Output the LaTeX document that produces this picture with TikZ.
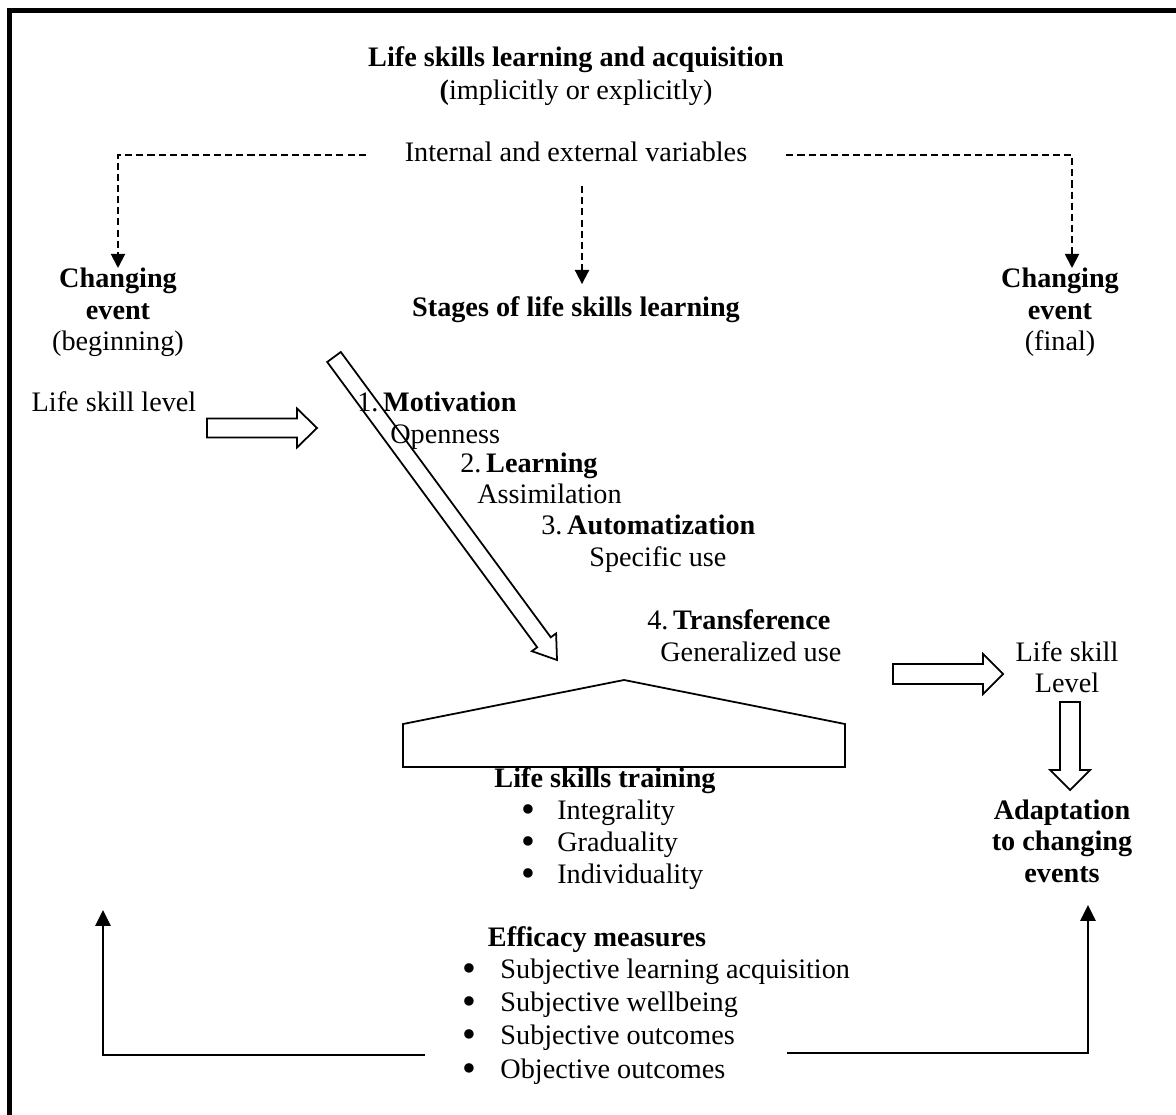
\documentclass[tikz,border=0pt]{standalone}
\usepackage{fontspec}
\setmainfont{Liberation Serif}
\usetikzlibrary{arrows.meta}

\newcommand{\itembullet}[1]{\makebox[#1][l]{\raisebox{-1.9pt}{\scalebox{1.4}{\textbullet}}}}

\tikzset{
    txt/.style={font=\fontsize{16}{18}\selectfont, inner sep=0pt,
        text height=11pt, text depth=4pt},
    btxt/.style={txt, font=\fontsize{16}{18}\selectfont\bfseries},
    mline/.style={font=\fontsize{16}{17.8}\selectfont, inner sep=0pt,
        align=center, anchor=north},
    dasharrow/.style={line width=1.1pt, dash pattern=on 4pt off 2.3pt,
        -{Triangle[length=8pt, width=8pt]}},
    hollow/.style={draw, line width=1pt, line join=miter},
    fbarrow/.style={line width=1.4pt, -{Triangle[length=9pt, width=8.5pt]}}
}

\begin{document}
\begin{tikzpicture}[x=0.567pt, y=-0.567pt]
    \useasboundingbox (0,0) rectangle (1176,1115);
    \draw[line width=2.8pt] (9.5,10.5) rectangle (1200,1140);

    % heading
    \node[btxt] (title) at (576,60) {Life skills learning and acquisition};
    \node[txt] (mode) at (576,93) {\textbf{(}implicitly or explicitly)};
    \node[txt, inner xsep=22pt] (vars) at (576,155)
        {Internal and external variables};

    \node[mline] (chgL) at (118,268)
        {\textbf{Changing}\\\textbf{event}\\(beginning)};
    \node[btxt] (stages) at (576,310) {Stages of life skills learning};
    \node[mline] (chgR) at (1060,268)
        {\textbf{Changing}\\\textbf{event}\\(final)};

    \draw[dasharrow] (vars.west) -| (chgL.north);
    \draw[dasharrow] (vars.east) -| ([xshift=6.8pt]chgR.north);
    \draw[dasharrow, shorten <=10pt, shorten >=7pt]
        ([xshift=3.4pt]vars.south) -- ([xshift=3.4pt]stages.north);

    % stages
    \node[txt] (lvlL) at (114,405) {Life skill level};
    \node[txt, anchor=west] (st1) at (357,405) {1.\,\textbf{Motivation}};
    \node[txt, anchor=west] (st1b) at (390,437) {Openness};
    \node[txt, anchor=west] (st2) at (460,466) {2.\,\textbf{Learning}};
    \node[txt, anchor=west] (st2b) at (477,497) {Assimilation};
    \node[txt, anchor=west] (st3) at (541,528) {3.\,\textbf{Automatization}};
    \node[txt, anchor=west] (st3b) at (589,560) {Specific use};
    \node[txt, anchor=west] (st4) at (647,623) {4.\,\textbf{Transference}};
    \node[txt, anchor=west] (st4b) at (660,655) {Generalized use};

    \draw[hollow] (207,418.5) -- (297,418.5) -- (297,408.5) -- (317,428)
        -- (297,447.5) -- (297,437.5) -- (207,437.5) -- cycle;
    \draw[hollow] (327.2,362.0) -- (537.2,647.3) -- (531.9,651.2)
        -- (557,660) -- (556.1,633.4) -- (550.8,637.3) -- (340.8,352.0)
        -- cycle;

    % training
    \draw[hollow] (403,767) -- (403,724) -- (624,680) -- (845,724)
        -- (845,767) -- cycle;
    \node[btxt] (train) at (605,781) {Life skills training};
    \node[txt, anchor=west] (tr1) at (521,813)
        {\itembullet{20.4pt}Integrality};
    \node[txt, anchor=west] (tr2) at (521,845)
        {\itembullet{20.4pt}Graduality};
    \node[txt, anchor=west] (tr3) at (521,877)
        {\itembullet{20.4pt}Individuality};

    % outcome
    \node[mline] (lvlR) at (1067,641) {Life skill\\Level};
    \node[mline, font=\fontsize{16}{17.6}\selectfont\bfseries] (adapt)
        at (1062,800) {Adaptation\\to changing\\events};
    \draw[hollow] (893,664) -- (983,664) -- (983,654) -- (1003,674)
        -- (983,694) -- (983,684) -- (893,684) -- cycle;
    \draw[hollow] (1060,702) -- (1060,770) -- (1050,770) -- (1070,790)
        -- (1090,770) -- (1080,770) -- (1080,702) -- cycle;

    % efficacy
    \node[btxt] (effic) at (597,940) {Efficacy measures};
    \node[txt, anchor=west] (ef1) at (462,972)
        {\itembullet{21.6pt}Subjective learning acquisition};
    \node[txt, anchor=west] (ef2) at (462,1005)
        {\itembullet{21.6pt}Subjective wellbeing};
    \node[txt, anchor=west] (ef3) at (462,1038)
        {\itembullet{21.6pt}Subjective outcomes};
    \node[txt, anchor=west] (ef4) at (462,1072)
        {\itembullet{21.6pt}Objective outcomes};

    \coordinate (fbL) at (425,1055);
    \coordinate (fbLtop) at (103,910);
    \coordinate (fbR) at (787,1053);
    \coordinate (fbRtop) at (1088,905);
    \draw[fbarrow] (fbL) -| (fbLtop);
    \draw[fbarrow] (fbR) -| (fbRtop);
\end{tikzpicture}
\end{document}
